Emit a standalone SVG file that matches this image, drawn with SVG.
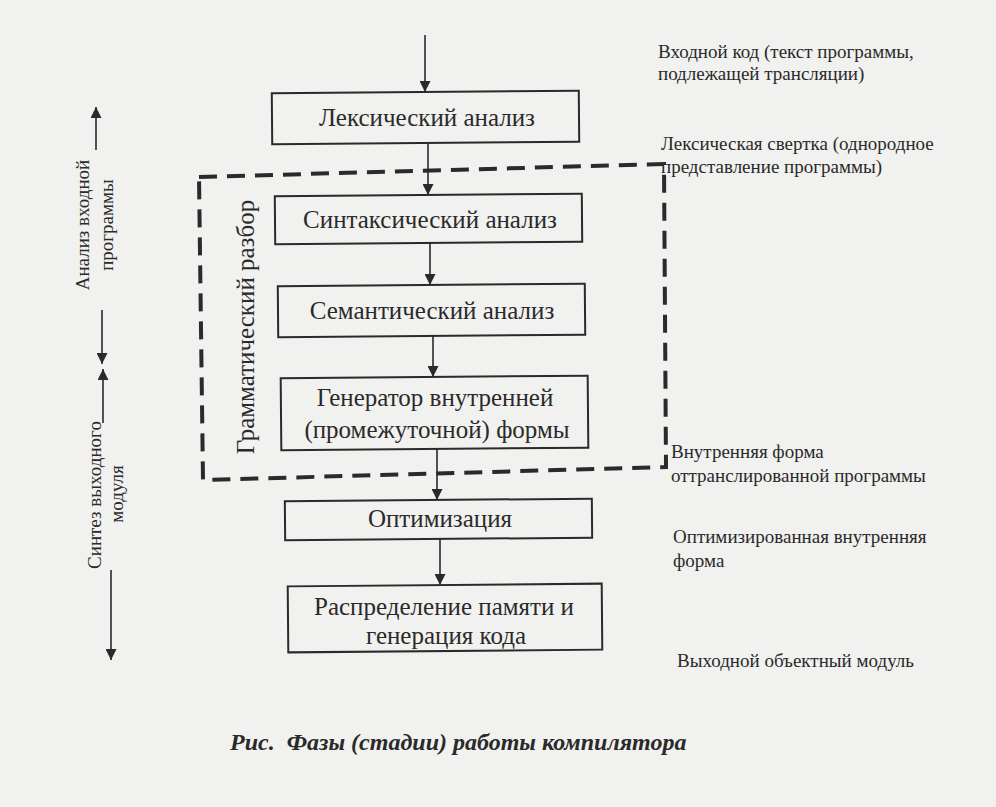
<svg xmlns="http://www.w3.org/2000/svg" width="996" height="807" viewBox="0 0 996 807">
<defs>
<style>
.box{fill:none;stroke:#2a2a2a;stroke-width:2}
.t{font-family:"Liberation Serif","DejaVu Serif",serif;fill:#2a2a2a}
.bt{font-size:25px;text-anchor:middle}
.side{font-size:19px}
.ln{stroke:#2a2a2a;stroke-width:1.6;fill:none}
</style>
<marker id="ah2" viewBox="0 0 10 10" refX="10" refY="5" markerWidth="11" markerHeight="11" markerUnits="userSpaceOnUse" orient="auto"><path d="M0,0 L10,5 L0,10 z" fill="#2a2a2a"/></marker>
</defs>
<rect width="996" height="807" fill="#f1f1ef"/>
<g id="connectors">
<line class="ln" x1="425" y1="35" x2="425" y2="92" marker-end="url(#ah2)"/>
<line class="ln" x1="428" y1="143" x2="428" y2="195" marker-end="url(#ah2)"/>
<line class="ln" x1="430" y1="243" x2="430" y2="285" marker-end="url(#ah2)"/>
<line class="ln" x1="433" y1="336" x2="433" y2="377" marker-end="url(#ah2)"/>
<line class="ln" x1="437" y1="449" x2="437" y2="500" marker-end="url(#ah2)"/>
<line class="ln" x1="440" y1="539" x2="440" y2="585" marker-end="url(#ah2)"/>
<line class="ln" x1="96" y1="150" x2="96" y2="107" marker-end="url(#ah2)"/>
<line class="ln" x1="102" y1="310" x2="102" y2="364" marker-end="url(#ah2)"/>
<line class="ln" x1="103" y1="423" x2="103" y2="369" marker-end="url(#ah2)"/>
<line class="ln" x1="111" y1="570" x2="111" y2="660" marker-end="url(#ah2)"/>
</g>
<g id="grammar">
<path d="M199,177 L664,164 L666,467 L203,480 Z" fill="none" stroke="#2a2a2a" stroke-width="4" stroke-dasharray="18,10"/>
<text class="t" x="254" y="327" font-size="25" text-anchor="middle" transform="rotate(-90 254 327)">Грамматический разбор</text>
</g>
<g id="lex">
<rect class="box" x="272" y="92" width="307" height="51" transform="rotate(-0.5 425 117)"/>
<text class="t bt" x="427" y="126">Лексический анализ</text>
</g>
<g id="syn">
<rect class="box" x="275" y="195" width="307" height="48" transform="rotate(-0.5 428 219)"/>
<text class="t bt" x="430" y="228">Синтаксический анализ</text>
</g>
<g id="sem">
<rect class="box" x="278" y="285" width="307" height="51" transform="rotate(-0.5 431 310)"/>
<text class="t bt" x="432" y="319">Семантический анализ</text>
</g>
<g id="gen">
<rect class="box" x="281" y="377" width="307" height="72" transform="rotate(-0.5 434 413)"/>
<text class="t bt" x="435" y="406">Генератор внутренней</text>
<text class="t bt" x="437" y="438">(промежуточной) формы</text>
</g>
<g id="opt">
<rect class="box" x="285" y="500" width="307" height="39" transform="rotate(-0.5 438 520)"/>
<text class="t bt" x="440" y="527">Оптимизация</text>
</g>
<g id="alloc">
<rect class="box" x="288" y="585" width="314" height="66" transform="rotate(-0.5 445 618)"/>
<text class="t bt" x="444" y="615">Распределение памяти и</text>
<text class="t bt" x="446" y="644">генерация кода</text>
</g>
<g id="left-labels">
<text class="t side" x="89" y="225" text-anchor="middle" transform="rotate(-90 89 225)">Анализ входной</text>
<text class="t side" x="113" y="225" text-anchor="middle" transform="rotate(-90 113 225)">программы</text>
<text class="t side" x="101" y="495" text-anchor="middle" transform="rotate(-90 101 495)">Синтез выходного</text>
<text class="t side" x="123" y="494" text-anchor="middle" transform="rotate(-90 123 494)">модуля</text>
</g>
<g id="right-labels">
<text class="t side" x="658" y="58">Входной код (текст программы,</text>
<text class="t side" x="658" y="80">подлежащей трансляции)</text>
<text class="t side" x="661" y="150">Лексическая свертка (однородное</text>
<text class="t side" x="661" y="173">представление программы)</text>
<text class="t side" x="671" y="458">Внутренняя форма</text>
<text class="t side" x="671" y="482">оттранслированной программы</text>
<text class="t side" x="673" y="543">Оптимизированная внутренняя</text>
<text class="t side" x="673" y="567">форма</text>
<text class="t side" x="677" y="667">Выходной объектный модуль</text>
</g>
<g id="caption">
<text class="t" x="230" y="750" font-size="24" font-weight="bold" font-style="italic" xml:space="preserve">Рис.  Фазы (стадии) работы компилятора</text>
</g>
</svg>
